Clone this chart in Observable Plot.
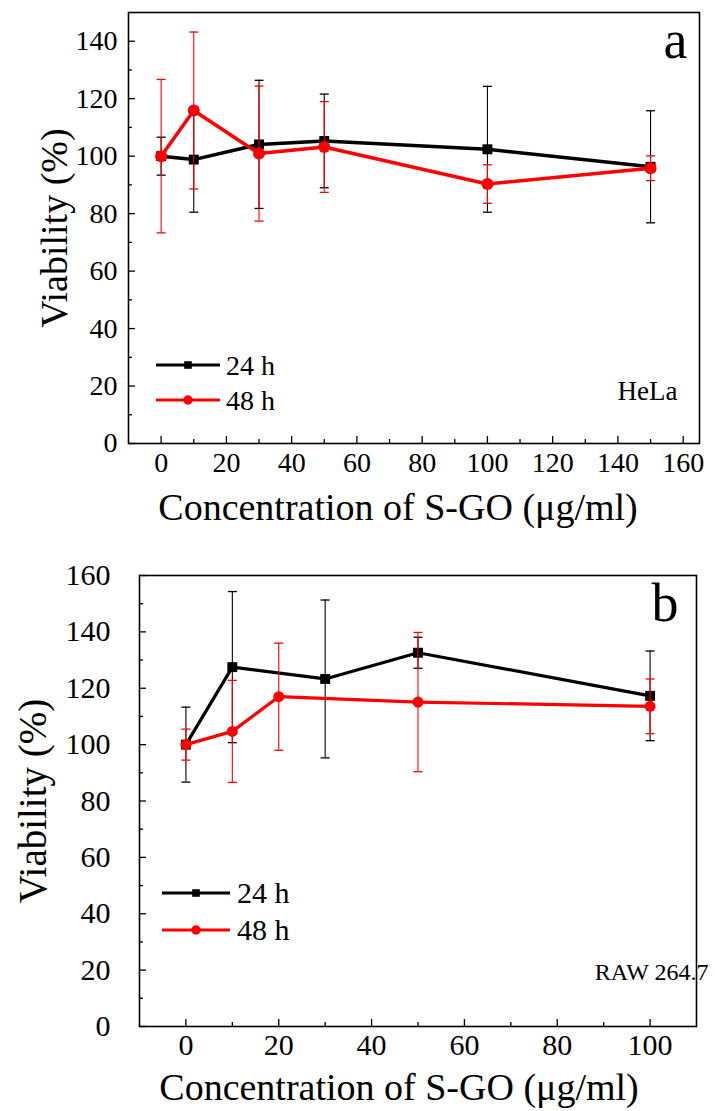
<!DOCTYPE html>
<html><head><meta charset="utf-8">
<script src="https://cdn.jsdelivr.net/npm/d3@7"></script>
<script src="https://cdn.jsdelivr.net/npm/@observablehq/plot@0.6"></script>
<style>
body{margin:0;background:#fff;}
#wrap{position:relative;width:715px;height:1111px;background:#fff;overflow:hidden;}
.panel{position:absolute;left:0;}
#legend{position:absolute;left:0;top:0;}
#wrap svg, #wrap svg text{font-family:'Liberation Serif','Times New Roman',Times,serif !important;font-variant:normal !important;}
</style></head><body><div id="wrap"></div>
<script>
// ---- Panel a: HeLa ----
const concA = [0, 10, 30, 50, 100, 150];
const hela24 = [100, 98.8, 104.1, 105.3, 102.4, 96.3];
const hela24Err = [6.6, 18.3, 22.3, 16.3, 21.9, 19.5];
const hela48 = [100, 115.9, 100.9, 103.2, 90.3, 95.8];
const hela48Err = [26.7, 27.3, 23.5, 15.8, 6.7, 4.3];
const xTicksA = [0, 20, 40, 60, 80, 100, 120, 140, 160];
const xMinorA = [10, 30, 50, 70, 90, 110, 130, 150];
const yTicksA = [0, 20, 40, 60, 80, 100, 120, 140];
const yMinorA = [10, 30, 50, 70, 90, 110, 130];

// ---- Panel b: RAW 264.7 ----
const concB24 = [0, 10, 30, 50, 100];
const raw24 = [100, 127.5, 123.3, 132.6, 117.3];
const raw24Err = [13.3, 26.8, 28.0, 5.5, 15.9];
const concB48 = [0, 10, 20, 50, 100];
const raw48 = [100, 104.7, 117.0, 115.1, 113.6];
const raw48Err = [5.5, 18.1, 19.0, 24.7, 9.7];
const xTicksB = [0, 20, 40, 60, 80, 100];
const xMinorB = [10, 30, 50, 70, 90];
const yTicksB = [0, 20, 40, 60, 80, 100, 120, 140, 160];
const yMinorB = [10, 30, 50, 70, 90, 110, 130, 150];

const seriesNames = ["24 h", "48 h"];
const seriesColors = ["#000000", "#ff0000"];
const xLabel = "Concentration of S-GO (\u03bcg/ml)";
const yLabel = "Viability (%)";

const FONT = "'Liberation Serif', 'Times New Roman', serif";

function rows(xs, ys, es) { return xs.map((x, i) => ({x, y: ys[i], e: es[i]})); }

const capSymbol = {
  draw(ctx, size) { const w = Math.sqrt(size / Math.PI); ctx.moveTo(-w, 0); ctx.lineTo(w, 0); }
};

function seriesMarks(data, color, symbol, r, lw) {
  return [
    Plot.line(data, {x: "x", y: "y", stroke: color, strokeWidth: lw}),
    Plot.ruleX(data, {x: "x", y1: d => d.y - d.e, y2: d => d.y + d.e, stroke: color, strokeWidth: 1.1}),
    Plot.dot(data, {x: "x", y: d => d.y + d.e, symbol: capSymbol, r: 4.5, stroke: color, strokeWidth: 1.3, fill: "none"}),
    Plot.dot(data, {x: "x", y: d => d.y - d.e, symbol: capSymbol, r: 4.5, stroke: color, strokeWidth: 1.3, fill: "none"}),
    Plot.dot(data, {x: "x", y: "y", symbol, r, fill: color, stroke: "none"})
  ];
}

function panel(o) {
  const ax = {label: null, strokeWidth: 1.3};
  return Plot.plot({
    width: 715, height: o.height,
    marginLeft: o.ml, marginRight: o.mr, marginTop: o.mt, marginBottom: o.mb,
    x: {domain: o.xDomain, label: null},
    y: {domain: o.yDomain, label: null},
    style: {fontFamily: FONT, color: "#000", background: "transparent", overflow: "visible"},
    marks: [
      Plot.axisX({...ax, ticks: o.xTicks, tickSize: -7, tickPadding: 7 + o.xPad, fontSize: o.tickFont}),
      Plot.axisX({...ax, ticks: o.xMinor, tickSize: -4, tickFormat: () => ""}),
      Plot.axisY({...ax, ticks: o.yTicks, tickSize: -7, tickPadding: 7 + o.yPad, fontSize: o.tickFont}),
      Plot.axisY({...ax, ticks: o.yMinor, tickSize: -4, tickFormat: () => ""}),
      ...seriesMarks(o.d24, seriesColors[0], "square", o.sqR, o.lw),
      ...seriesMarks(o.d48, seriesColors[1], "circle", o.cR, o.lw),
      Plot.frame({stroke: "#000", strokeWidth: 1.6}),
      Plot.text([xLabel], {frameAnchor: "bottom", lineAnchor: "middle", textAnchor: "middle", dy: o.xLabDy, dx: o.xLabDx, fontSize: 38, fill: "#000"}),
      Plot.text([yLabel], {frameAnchor: "left", lineAnchor: "middle", textAnchor: "middle", dx: o.yLabDx, rotate: -90, fontSize: o.yLabFont, fill: "#000"}),
      Plot.text([o.letter], {frameAnchor: "top-right", dx: o.letDx, dy: o.letDy, fontSize: 54, textAnchor: "end", fill: "#000"}),
      Plot.text([o.cell], {frameAnchor: "bottom-right", lineAnchor: "middle", dx: o.cellDx, dy: o.cellDy, fontSize: o.cellFont, textAnchor: "end", fill: "#000"})
    ]
  });
}

const wrap = document.getElementById("wrap");

const pa = panel({
  height: 555, ml: 128, mr: 16, mt: 12, mb: 112,
  xDomain: [-10, 165], yDomain: [0, 150],
  xTicks: xTicksA, xMinor: xMinorA, yTicks: yTicksA, yMinor: yMinorA,
  tickFont: 28, xPad: 9, yPad: 11,
  d24: rows(concA, hela24, hela24Err), d48: rows(concA, hela48, hela48Err),
  sqR: 5.6, cR: 6, lw: 3.5,
  xLabDy: 64, xLabDx: -16, yLabDx: -74, yLabFont: 38,
  letter: "a", letDx: -12, letDy: 7,
  cell: "HeLa", cellDx: -22, cellDy: -52, cellFont: 27
});
const da = document.createElement("div"); da.className = "panel"; da.style.top = "0px"; da.appendChild(pa); wrap.appendChild(da);

const pb = panel({
  height: 556, ml: 139, mr: 19, mt: 20, mb: 85,
  xDomain: [-10, 110], yDomain: [0, 160],
  xTicks: xTicksB, xMinor: xMinorB, yTicks: yTicksB, yMinor: yMinorB,
  tickFont: 30, xPad: 7, yPad: 29,
  d24: rows(concB24, raw24, raw24Err), d48: rows(concB48, raw48, raw48Err),
  sqR: 5.6, cR: 5.5, lw: 3.2,
  xLabDy: 61, xLabDx: -19, yLabDx: -106, yLabFont: 39,
  letter: "b", letDx: -18, letDy: 7,
  cell: "RAW 264.7", cellDx: 12, cellDy: -54, cellFont: 24
});
const db = document.createElement("div"); db.className = "panel"; db.style.top = "555px"; db.appendChild(pb); wrap.appendChild(db);

// ---- Legends (overlay) ----
const legendSpecs = [
  {y0: 365, gap: 35, x1: 156, x2: 220, tx: 226, fs: 28},
  {y0: 893, gap: 37, x1: 162, x2: 230, tx: 237, fs: 30}
];
const svg = d3.select(wrap).append("svg").attr("id", "legend").attr("width", 715).attr("height", 1111);
legendSpecs.forEach(L => {
  seriesNames.forEach((name, i) => {
    const y = L.y0 + i * L.gap;
    const g = svg.append("g");
    g.append("line").attr("x1", L.x1).attr("x2", L.x2).attr("y1", y).attr("y2", y)
      .attr("stroke", seriesColors[i]).attr("stroke-width", 3);
    const mx = (L.x1 + L.x2) / 2;
    if (i === 0) g.append("rect").attr("x", mx - 3.8).attr("y", y - 3.8).attr("width", 7.6).attr("height", 7.6).attr("fill", seriesColors[i]);
    else g.append("circle").attr("cx", mx).attr("cy", y).attr("r", 4.7).attr("fill", seriesColors[i]);
    g.append("text").attr("x", L.tx).attr("y", y).attr("dy", "0.34em").attr("font-size", L.fs).attr("fill", "#000").text(name);
  });
});
</script></body></html>
